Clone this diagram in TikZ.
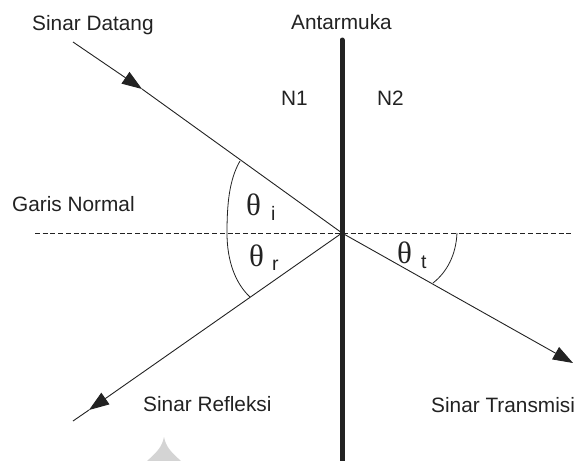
\documentclass[tikz,border=0pt]{standalone}
\usepackage{fontspec}
\setmainfont{Liberation Sans}
\newfontfamily\greekfont{Liberation Serif}
\usetikzlibrary{arrows.meta}
\definecolor{ink}{HTML}{222222}
\definecolor{wm}{HTML}{D4D4D4}
\tikzset{
  lbl/.style={inner sep=0pt, anchor=base west, text=ink, font=\fontsize{20.8}{25}\selectfont},
  th/.style={inner sep=0pt, anchor=base west, text=ink, font=\greekfont\fontsize{31}{35}\selectfont},
  sub/.style={inner sep=0pt, anchor=base west, text=ink, font=\fontsize{19.5}{23}\selectfont},
  ray/.style={draw=ink, line width=0.9pt},
  tip/.style={-{Triangle[length=20pt,width=14pt]}},
  normal/.style={draw=ink, line width=0.8pt, dash pattern=on 5pt off 2.7pt},
  iface/.style={draw=ink, line width=5pt, line cap=round},
  anglearc/.style={draw=ink, line width=0.8pt}
}
\begin{document}
\begin{tikzpicture}[x=1pt,y=-1pt]
\useasboundingbox (0,0) rectangle (579,461);
% coordinates
\coordinate (O) at (342,233);
\coordinate (inS) at (73,42);
\coordinate (inT) at (142,89);
\coordinate (refT) at (89,410);
\coordinate (refE) at (73,421);
\coordinate (trT) at (573,363);
\coordinate (ifTop) at (342,40);
\coordinate (ifBot) at (342,470);
\coordinate (nL) at (35,233);
\coordinate (nR) at (572,233);
% watermark
\fill[wm] (147,461) .. controls (157,452) and (162,447) .. (164,437) .. controls (166,447) and (171,452) .. (181,461) -- cycle;
% normal line
\draw[normal] (nL) -- (nR);
% interface
\draw[iface] (ifTop) -- (ifBot);
% rays
\draw[ray,tip] (inS) -- (inT);
\draw[ray] (inT) -- (O);
\draw[ray,tip] (O) -- (refT);
\draw[ray] (refT) -- (refE);
\draw[ray,tip] (O) -- (trT);
% angle arcs
\draw[anglearc] (240,161) .. controls (229,180) and (227,205) .. (227,233) .. controls (227,262) and (236,284) .. (250,297);
\draw[anglearc] (457,233) .. controls (456,255) and (447,272) .. (433,283);
% labels
\node[lbl] (sd) at (32,30) {Sinar Datang};
\node[lbl] (am) at (291,29) {Antarmuka};
\node[lbl] (n1) at (281,105) {N1};
\node[lbl] (n2) at (377,105) {N2};
\node[lbl] (gn) at (12,211) {Garis Normal};
\node[lbl] (sr) at (143,411) {Sinar Refleksi};
\node[lbl] (st) at (431,412) {Sinar Transmisi};
\node[th] (thi) at (246,215) {θ};
\node[sub] (si) at (271,220) {i};
\node[th] (thr) at (249,266) {θ};
\node[sub] (sr2) at (272,270) {r};
\node[th] (tht) at (397,263) {θ};
\node[sub] (stt) at (421,268) {t};
\end{tikzpicture}
\end{document}
